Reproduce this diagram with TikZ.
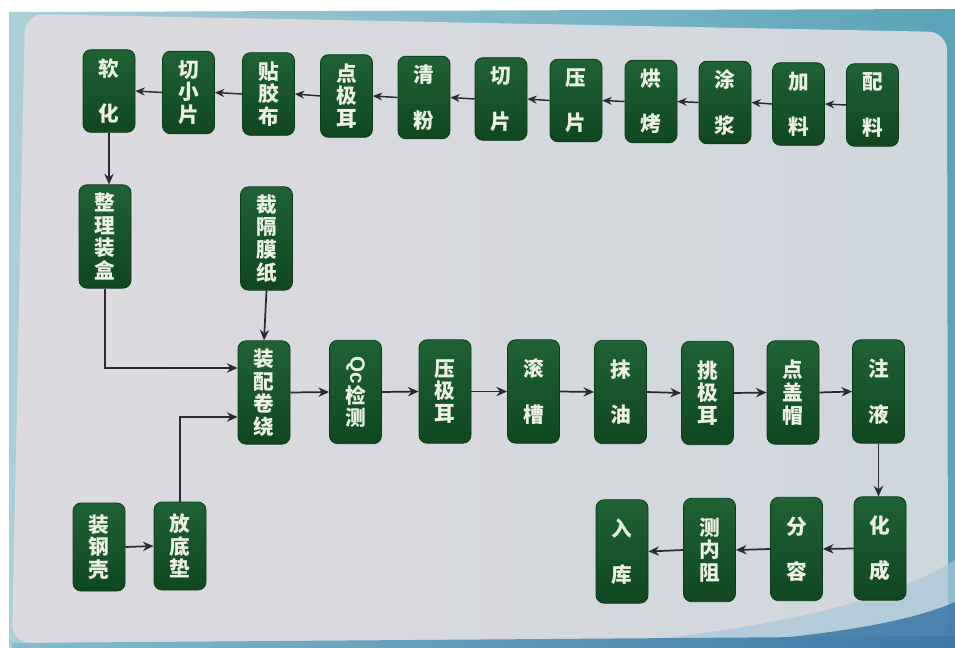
\documentclass[tikz,border=0pt]{standalone}
\usepackage{fontspec}
\newfontfamily\cjk{Noto Sans CJK SC}
\usetikzlibrary{arrows.meta,calc}
\definecolor{frameteal}{HTML}{86BCCB}
\definecolor{framepale}{HTML}{A9CFD8}
\definecolor{framedeep}{HTML}{5AA3B8}
\definecolor{panelL}{HTML}{DDDADF}
\definecolor{panelR}{HTML}{CFD7DC}
\definecolor{boxtop}{HTML}{1F6233}
\definecolor{boxbot}{HTML}{10471F}
\definecolor{boxline}{HTML}{0B3A1A}
\definecolor{txt}{HTML}{EDF1E4}
\definecolor{arrowc}{HTML}{2A2A33}
\definecolor{swooshL}{HTML}{A9C6D8}
\definecolor{swooshD}{HTML}{3B78A6}
\tikzset{
  stepbox/.style={rounded corners=6pt, draw=boxline, line width=0.6pt,
    top color=boxtop, bottom color=boxbot, text=txt, align=center,
    font=\cjk\bfseries\fontsize{15.5}{17}\selectfont,
    inner sep=0pt, minimum width=39pt},
  toprow/.style={stepbox, minimum height=62pt},
  midrow/.style={stepbox, minimum height=77.5pt},
  lowrow/.style={stepbox, minimum height=66pt},
  flow/.style={draw=arrowc, line width=1.3pt,
    -{Stealth[length=8pt,width=7pt]}},
  flowsmall/.style={draw=arrowc, line width=1.1pt,
    -{Stealth[length=7pt,width=6pt]}}
}
\begin{document}
\begin{tikzpicture}[x=0.75pt,y=-0.75pt]
\useasboundingbox (0,0) rectangle (955,648);
% board background
\fill[white] (0,0) rectangle (955,648);
\shade[left color=framepale, right color=framedeep]
  (9,12) -- (955,9) -- (955,648) -- (9,648) -- cycle;
\shade[left color=panelL, right color=panelR, rounded corners=14pt]
  (25,14) -- (947,32) -- (948,639) -- (12,643) -- cycle;
% blue swoosh at the lower right
\fill[swooshL, opacity=0.7] (560,648) .. controls (760,632) and (880,606) .. (955,560) -- (955,648) -- cycle;
\fill[swooshD, opacity=0.85] (640,648) .. controls (800,640) and (900,626) .. (955,602) -- (955,648) -- cycle;
\shade[left color=frameteal, right color=swooshD]
  (12,643) -- (948,636) -- (955,636) -- (955,648) -- (12,648) -- cycle;

% electrode line (right to left)
\node[toprow] (pl)   at (872.5,105) {配\\[17pt]料};
\node[toprow] (jl)   at (798.5,104) {加\\[17pt]料};
\node[toprow] (tj)   at (725,102.5) {涂\\[17pt]浆};
\node[toprow] (hk)   at (651,101.5) {烘\\[17pt]烤};
\node[toprow] (yp)   at (576,100.5) {压\\[17pt]片};
\node[toprow] (qp)   at (501,99)    {切\\[17pt]片};
\node[toprow] (qf)   at (424,97.5)  {清\\[17pt]粉};
\node[toprow] (dje)  at (346.5,96)  {点\\极\\耳};
\node[toprow] (tjb)  at (268.5,94)  {贴\\胶\\布};
\node[toprow] (qxp)  at (188.5,92.5){切\\小\\片};
\node[toprow] (rh)   at (109,91)    {软\\[17pt]化};

% feeding branches
\node[midrow] (zlzh) at (105,236.5) {整\\理\\装\\盒};
\node[midrow] (cgmz) at (266.5,238.5) {裁\\隔\\膜\\纸};
\node[lowrow] (zgk)  at (99,547)    {装\\钢\\壳};
\node[lowrow] (fdd)  at (180,546)   {放\\底\\垫};

% assembly line
\node[midrow] (zpjr) at (264,392.5) {装\\配\\卷\\绕};
\node[midrow] (qc)   at (355.5,392) {\rotatebox{-90}{\fontspec{Liberation Sans}\bfseries Qc}\\检\\测};
\node[midrow] (yje)  at (445,391.5) {压\\极\\耳};
\node[midrow] (gc)   at (533.5,391.5) {滚\\[17pt]槽};
\node[midrow] (my)   at (620.5,392) {抹\\[17pt]油};
\node[midrow] (tje)  at (707.5,393) {挑\\极\\耳};
\node[midrow] (dgm)  at (793,392.5) {点\\盖\\帽};
\node[midrow] (zy)   at (878.5,391.5) {注\\[17pt]液};

% finishing line (right to left)
\node[midrow] (hc)   at (880,548.5) {化\\[17pt]成};
\node[midrow] (fr)   at (796.5,549) {分\\[17pt]容};
\node[midrow] (cnz)  at (709.5,550) {测\\内\\阻};
\node[midrow] (rk)   at (622,551.5) {入\\[17pt]库};

% connectors
\foreach \a/\b in {pl/jl, jl/tj, tj/hk, hk/yp, yp/qp, qp/qf, qf/dje, dje/tjb, tjb/qxp, qxp/rh}
  \draw[flowsmall] (\a.west) -- (\b.east);
\draw[flow] (rh.south) -- (rh.south |- zlzh.north);
\draw[flow] (zlzh.south) |- ($(zpjr.west)+(0,-24.5)$);
\draw[flow] (fdd.north) |- ($(zpjr.west)+(0,24.5)$);
\draw[flow] (cgmz.south) -- (zpjr.north);
\draw[flow] (zgk.east) -- (fdd.west);
\foreach \a/\b in {zpjr/qc, qc/yje, yje/gc, gc/my, my/tje, tje/dgm, dgm/zy}
  \draw[flow] (\a.east) -- (\b.west);
\draw[flow] (zy.south) -- (zy.south |- hc.north);
\foreach \a/\b in {hc/fr, fr/cnz, cnz/rk}
  \draw[flow] (\a.west) -- (\b.east);
\end{tikzpicture}
\end{document}
